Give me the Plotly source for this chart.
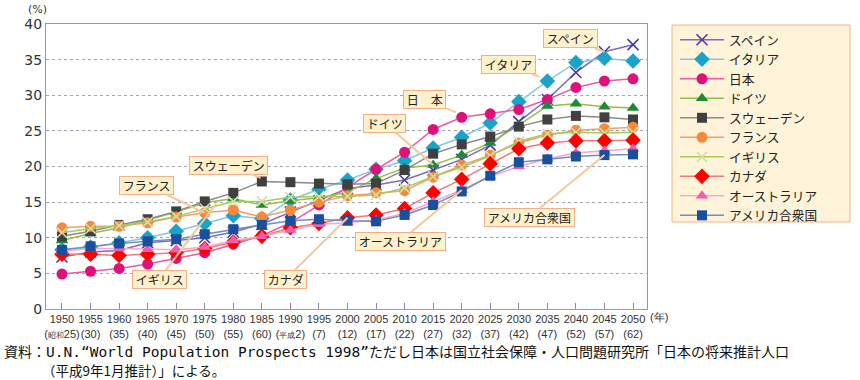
import plotly.graph_objects as go

years = [1950, 1955, 1960, 1965, 1970, 1975, 1980, 1985, 1990, 1995, 2000,
         2005, 2010, 2015, 2020, 2025, 2030, 2035, 2040, 2045, 2050]
era_labels = ["(<span style='font-size:8px'>昭和</span>25)", "(30)", "(35)", "(40)", "(45)", "(50)", "(55)",
              "(60)", "(<span style='font-size:8px'>平成</span>2)", "(7)", "(12)", "(17)", "(22)", "(27)",
              "(32)", "(37)", "(42)", "(47)", "(52)", "(57)", "(62)"]

spain = [7.3, 8.0, 8.2, 9.3, 9.6, 10.0, 10.8, 11.9, 13.6, 15.2, 16.9,
         17.4, 18.1, 19.5, 21.0, 23.0, 26.3, 29.4, 33.2, 36.1, 37.1]
italy = [8.3, 8.7, 9.3, 10.0, 10.9, 12.0, 13.1, 12.7, 15.3, 16.8, 18.1,
         19.6, 20.8, 22.6, 24.1, 26.1, 29.1, 32.0, 34.6, 35.2, 34.8]
japan = [4.9, 5.3, 5.7, 6.3, 7.1, 7.9, 9.1, 10.3, 12.1, 14.6, 17.2,
         19.6, 22.0, 25.2, 26.9, 27.4, 28.0, 29.4, 31.1, 32.0, 32.3]
germany = [9.6, 10.6, 11.4, 12.5, 13.6, 14.9, 15.5, 14.6, 15.2, 15.6, 16.4,
           18.3, 19.8, 20.2, 21.6, 23.3, 25.8, 28.5, 28.8, 28.4, 28.2]
sweden = [10.2, 10.9, 11.8, 12.6, 13.7, 15.1, 16.3, 17.9, 17.8, 17.6, 17.5,
          17.6, 19.5, 21.8, 23.1, 24.2, 25.6, 26.6, 27.1, 26.9, 26.6]
france = [11.4, 11.6, 11.6, 12.1, 12.9, 13.5, 13.9, 12.9, 13.9, 15.0, 15.9,
          16.3, 16.6, 18.5, 20.2, 21.6, 23.3, 24.4, 25.1, 25.3, 25.5]
uk = [10.7, 11.3, 11.7, 12.2, 13.0, 14.1, 15.1, 15.1, 15.7, 15.8, 15.8,
      16.0, 17.0, 18.6, 19.9, 21.5, 23.5, 24.6, 24.8, 24.7, 24.8]
canada = [7.7, 7.7, 7.5, 7.7, 7.9, 8.5, 9.4, 10.2, 11.4, 12.0, 12.8,
          13.2, 14.1, 16.3, 18.2, 20.4, 22.5, 23.3, 23.6, 23.6, 23.7]
australia = [8.1, 8.5, 8.5, 8.4, 8.3, 8.7, 9.6, 10.2, 11.1, 11.9, 12.1,
             12.5, 13.4, 15.1, 16.7, 18.6, 20.0, 21.1, 21.9, 22.2, 22.5]
usa = [8.3, 8.8, 9.2, 9.5, 9.8, 10.5, 11.2, 11.8, 12.4, 12.6, 12.4,
       12.3, 13.2, 14.6, 16.5, 18.7, 20.6, 21.0, 21.4, 21.6, 21.7]

series_names = ["スペイン", "イタリア", "日本", "ドイツ", "スウェーデン",
                "フランス", "イギリス", "カナダ", "オーストラリア", "アメリカ合衆国"]
series_values = [spain, italy, japan, germany, sweden, france, uk, canada, australia, usa]

styles = [
    dict(line="#7a6cc4", marker="#4b3a9a", symbol="x-thin", size=11),
    dict(line="#86c6e2", marker="#1aa3c8", symbol="diamond", size=12),
    dict(line="#ec5aa0", marker="#e0107a", symbol="circle", size=11),
    dict(line="#93c047", marker="#1e8a36", symbol="triangle-up", size=11),
    dict(line="#8a8a8a", marker="#404040", symbol="square", size=10),
    dict(line="#f5a06a", marker="#f7893a", symbol="circle", size=11),
    dict(line="#a9c95a", marker="#d4dfa8", symbol="x-thin", size=10),
    dict(line="#f07a7a", marker="#ff0000", symbol="diamond", size=12),
    dict(line="#f7a8cc", marker="#f25cae", symbol="triangle-up", size=11),
    dict(line="#6f8fc4", marker="#1a4f9e", symbol="square", size=10),
]

# plot area in pixels
L, R, T, B = 46, 647, 24, 309
PW, PH = R - L, B - T


def px(x):
    return (x - L) / PW


def py(y):
    return (B - y) / PH


fig = go.Figure()
for name, vals, st in zip(series_names, series_values, styles):
    if st["symbol"] == "x-thin":
        marker = dict(symbol="x-thin", size=st["size"],
                      line=dict(color=st["marker"], width=1.6), color=st["marker"])
    else:
        marker = dict(symbol=st["symbol"], size=st["size"], color=st["marker"],
                      line=dict(width=0))
    fig.add_trace(go.Scatter(x=years, y=vals, name=name, mode="lines+markers",
                             line=dict(color=st["line"], width=1.5), marker=marker))

# callout labels: (text, box x, box y, target x, target y)
callouts = [
    ("スペイン", 2039.1, 37.9, 2045, 36.1),
    ("イタリア", 2028.2, 34.25, 2033.6, 32.6),
    ("日　本", 2013.5, 29.4, 2019.0, 27.6),
    ("ドイツ", 2006.5, 26.1, 2015, 20.2),
    ("スウェーデン", 1979.2, 20.2, 1984.8, 18.4),
    ("フランス", 1964.8, 17.4, 1975, 13.5),
    ("イギリス", 1967.0, 4.2, 1977.0, 14.8),
    ("カナダ", 1989.2, 4.2, 2000, 12.8),
    ("オーストラリア", 2009.2, 9.5, 2020, 16.7),
    ("アメリカ合衆国", 2031.8, 12.9, 2045, 21.6),
]
for text, bx, by, tx, ty in callouts:
    fig.add_annotation(x=tx, y=ty, xref="x", yref="y", ax=bx, ay=by, axref="x", ayref="y",
                       text="\u00a0" + text + "\u00a0", showarrow=True, arrowhead=0, arrowwidth=2,
                       arrowcolor="#f7c896", standoff=0,
                       font=dict(family="Noto Sans CJK JP", size=12, color="#222"),
                       bgcolor="#fff1cc", bordercolor="#f2b08a", borderwidth=1, borderpad=0)

fig.add_annotation(x=px(37), y=py(9), xref="paper", yref="paper", text="(%)", showarrow=False,
                   xanchor="center", yanchor="middle",
                   font=dict(family="DejaVu Sans", size=11, color="#333"))
fig.add_annotation(x=px(648), y=py(317), xref="paper", yref="paper",
                   text="(年)", showarrow=False, xanchor="left", yanchor="middle",
                   font=dict(family="Liberation Sans, sans-serif", size=11, color="#333"))
fig.add_annotation(x=px(2), y=py(351), xref="paper", yref="paper",
                   xanchor="left", yanchor="middle", showarrow=False,
                   text="資料：<span style='font-family:DejaVu Sans Mono;font-size:14.5px'>U.N.“World Population Prospects 1998”</span>ただし日本は国立社会保障・人口問題研究所「日本の将来推計人口",
                   font=dict(family="Noto Sans CJK JP", size=14, color="#111"))
fig.add_annotation(x=px(40), y=py(370), xref="paper", yref="paper",
                   xanchor="left", yanchor="middle", showarrow=False,
                   text="（平成9年1月推計）」による。",
                   font=dict(family="Noto Sans CJK JP", size=13.5, color="#111"))

# legend box drawn as a shape
fig.add_shape(type="rect", xref="paper", yref="paper",
              x0=px(672), x1=px(850), y0=py(222), y1=py(25),
              fillcolor="#fff4d9", line=dict(color="#f3b584", width=1), layer="below")

ticktext = [f"{y}<br>{e}" for y, e in zip(years, era_labels)]

fig.update_layout(
    width=860, height=380,
    margin=dict(l=L, r=860 - R, t=T, b=380 - B, autoexpand=False),
    paper_bgcolor="white", plot_bgcolor="rgba(0,0,0,0)",
    showlegend=True,
    legend=dict(x=px(675), y=py(25), xanchor="left", yanchor="top",
                bgcolor="rgba(0,0,0,0)", borderwidth=0,
                font=dict(family="Noto Sans CJK JP", size=12.7, color="#222"),
                itemwidth=44, tracegroupgap=0),
    xaxis=dict(range=[1947.2, 2052.45], tickvals=years, ticktext=ticktext, tickangle=0,
               ticks="inside", ticklen=6, tickcolor="#8a8a99", showgrid=False,
               showline=True, linecolor="#9a98a8", linewidth=1, mirror=True, zeroline=False,
               tickfont=dict(family="Liberation Sans, Arial, sans-serif", size=11, color="#333")),
    yaxis=dict(range=[0, 40], tickvals=[0, 5, 10, 15, 20, 25, 30, 35, 40], ticks="",
               showgrid=True, gridcolor="#a8a4b4", griddash="dot", gridwidth=1,
               showline=True, linecolor="#9a98a8", linewidth=1, mirror=True, zeroline=False,
               tickfont=dict(family="DejaVu Sans", size=14, color="#333")),
)

fig.write_html("out.html", config={"displayModeBar": False},
               post_script="document.body.style.margin='0';document.body.style.overflow='hidden';")
